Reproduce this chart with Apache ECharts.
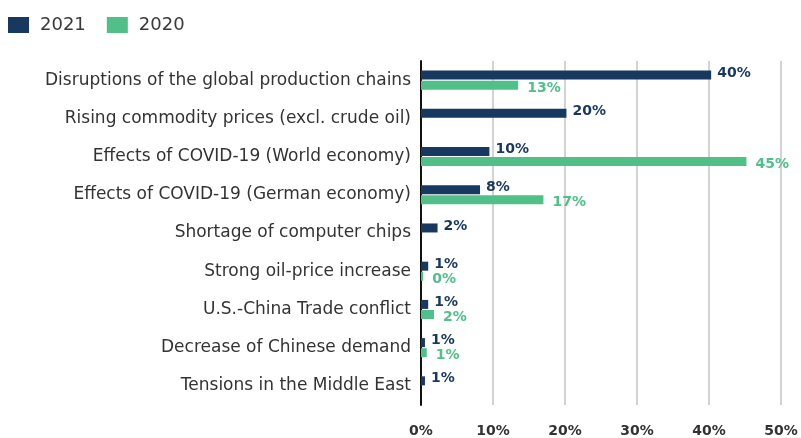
<!DOCTYPE html>
<html lang="en">
<head>
    <meta charset="UTF-8">
    <title>Risks</title>
    <script src="https://cdn.jsdelivr.net/npm/echarts@6/dist/echarts.min.js"></script>
    <style>
        body { margin: 0; background: #fff; }
    </style>
</head>
<body>
    <div id="main" style="width: 801px;height:438px;"></div>
    <script>
var categories = [
    'Disruptions of the global production chains',
    'Rising commodity prices (excl. crude oil)',
    'Effects of COVID-19 (World economy)',
    'Effects of COVID-19 (German economy)',
    'Shortage of computer chips',
    'Strong oil-price increase',
    'U.S.-China Trade conflict',
    'Decrease of Chinese demand',
    'Tensions in the Middle East'
];
// bar lengths
var values2021 = [40.3, 20.2, 9.5, 8.2, 2.3, 1.0, 1.0, 0.55, 0.55];
var values2020 = [13.5, null, 45.2, 17.0, null, 0.3, 1.8, 0.8, null];
// printed labels
var labels2021 = ['40%', '20%', '10%', '8%', '2%', '1%', '1%', '1%', '1%'];
var labels2020 = ['13%', '', '45%', '17%', '', '0%', '2%', '1%', ''];
var xTicks = [0, 10, 20, 30, 40, 50];

var navy = '#17385f';
var green = '#50bf88';
var font = 'DejaVu Sans';

var myChart = echarts.init(document.getElementById('main'));

var option = {
    animation: false,
    textStyle: { fontFamily: font },
    legend: {
        left: 8,
        top: 16,
        padding: 0,
        icon: 'rect',
        itemWidth: 21,
        itemHeight: 16,
        itemGap: 21,
        textStyle: { fontSize: 18, color: '#3a3a3a', fontFamily: font, padding: [0, 0, 0, 6] },
        data: ['2021', '2020']
    },
    grid: { left: 421, right: 20, top: 61, bottom: 31, containLabel: false },
    xAxis: {
        type: 'value',
        min: xTicks[0],
        max: xTicks[xTicks.length - 1],
        interval: 10,
        axisLine: { show: false },
        axisTick: { show: false },
        axisLabel: {
            margin: 19,
            fontSize: 14,
            fontWeight: 'bold',
            color: '#333',
            formatter: '{value}%'
        },
        splitLine: { lineStyle: { color: '#d3d3d3', width: 2 } }
    },
    yAxis: {
        type: 'category',
        inverse: true,
        data: categories,
        axisTick: { show: false },
        axisLine: { lineStyle: { color: '#111', width: 2 } },
        axisLabel: { margin: 10, fontSize: 17, color: '#333' }
    },
    series: [
        {
            name: '2021',
            type: 'bar',
            barWidth: 9,
            barGap: '12%',
            itemStyle: { color: navy },
            label: {
                show: true,
                position: 'right',
                distance: 6,
                offset: [0, -2],
                fontSize: 14,
                fontWeight: 'bold',
                color: navy,
                formatter: function (p) { return labels2021[p.dataIndex]; }
            },
            data: values2021
        },
        {
            name: '2020',
            type: 'bar',
            barWidth: 9,
            itemStyle: { color: green },
            label: {
                show: true,
                position: 'right',
                distance: 9,
                offset: [0, 3],
                fontSize: 14,
                fontWeight: 'bold',
                color: green,
                formatter: function (p) { return labels2020[p.dataIndex]; }
            },
            data: values2020
        }
    ]
};
myChart.setOption(option);
    </script>
</body>
</html>
